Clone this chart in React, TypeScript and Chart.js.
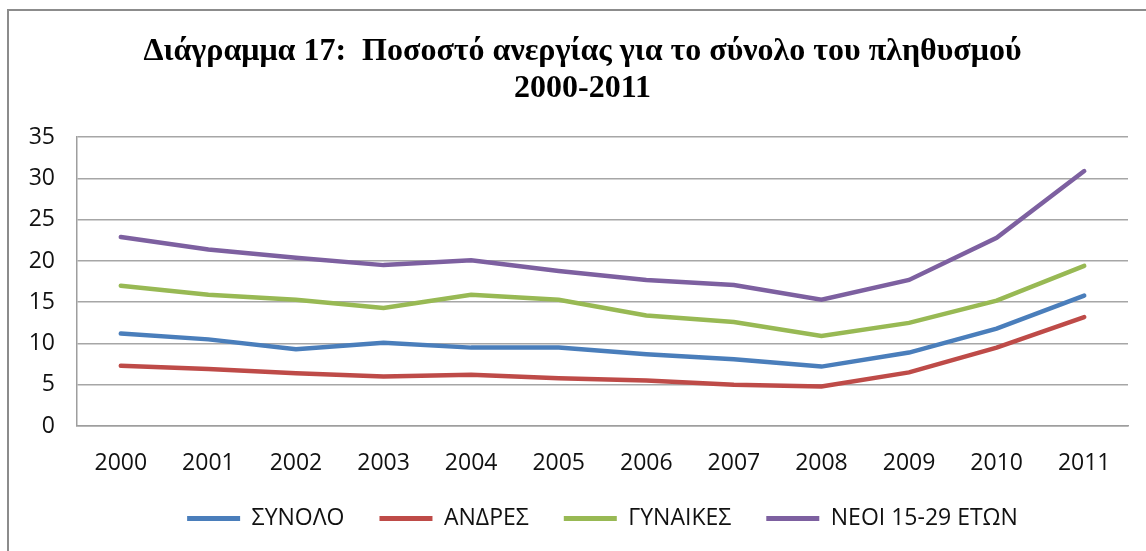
import React, { useEffect, useRef } from "react";
import { Chart, registerables } from "chart.js";

Chart.register(...registerables);

const years = ["2000", "2001", "2002", "2003", "2004", "2005", "2006", "2007", "2008", "2009", "2010", "2011"];
const synolo = [11.2, 10.5, 9.3, 10.1, 9.5, 9.5, 8.7, 8.1, 7.2, 8.9, 11.8, 15.8];
const andres = [7.3, 6.9, 6.4, 6.0, 6.2, 5.8, 5.5, 5.0, 4.8, 6.5, 9.5, 13.2];
const gynaikes = [17.0, 15.9, 15.3, 14.3, 15.9, 15.3, 13.4, 12.6, 10.9, 12.5, 15.2, 19.4];
const neoi = [22.9, 21.4, 20.4, 19.5, 20.1, 18.8, 17.7, 17.1, 15.3, 17.7, 22.8, 30.9];
const seriesNames = ["ΣΥΝΟΛΟ", "ΑΝΔΡΕΣ", "ΓΥΝΑΙΚΕΣ", "ΝΕΟΙ 15-29 ΕΤΩΝ"];
const titleLines = ["Διάγραμμα 17:  Ποσοστό ανεργίας για το σύνολο του πληθυσμού", "2000-2011"];

const shiftTitle = {
  id: "shiftTitle",
  afterLayout(chart: any) {
    const t = chart.titleBlock;
    if (t) {
      t.left += 8.5;
      t.right += 8.5;
    }
  },
};

export default function App() {
  const ref = useRef<HTMLCanvasElement | null>(null);
  useEffect(() => {
    if (!ref.current) return;
    const colors = ["#4a7ebb", "#be4b48", "#98b954", "#7d60a0"];
    const values = [synolo, andres, gynaikes, neoi];
    const chart = new Chart(ref.current, {
      type: "line",
      data: {
        labels: years,
        datasets: values.map((v, i) => ({
          label: seriesNames[i],
          data: v,
          borderColor: colors[i],
          backgroundColor: colors[i],
          borderWidth: 4.5,
          pointRadius: 0,
          tension: 0,
          borderCapStyle: "round" as const,
        })),
      },
      plugins: [shiftTitle],
      options: {
        animation: false,
        responsive: false,
        layout: { padding: { left: 20, right: 18, top: 0, bottom: 11 } },
        plugins: {
          title: {
            display: true,
            text: titleLines,
            color: "#000",
            font: { family: "Liberation Serif", size: 32, weight: "bold", lineHeight: 1.16 },
            padding: { top: 33, bottom: 30 },
          },
          legend: {
            position: "bottom",
            fullSize: false,
            labels: {
              color: "#111",
              font: { family: "Open Sans", size: 23 },
              boxWidth: 53,
              boxHeight: 5,
              padding: 35,
              generateLabels: (c: any) => {
                const items = Chart.defaults.plugins.legend.labels.generateLabels(c);
                return items.map((it: any) => ({ ...it, lineWidth: 0 }));
              },
            },
          },
          tooltip: { enabled: false },
        },
        scales: {
          x: {
            offset: true,
            grid: { display: false, drawTicks: false },
            border: { display: true, color: "#9e9e9e", width: 1.5 },
            ticks: { color: "#111", font: { family: "Open Sans", size: 23 }, padding: 24, maxRotation: 0 },
            afterFit: (s: any) => {
              s.height = 46;
            },
          },
          y: {
            min: 0,
            max: 35,
            ticks: { stepSize: 5, color: "#111", font: { family: "Open Sans", size: 23 }, padding: 22 },
            grid: { color: "#a6a6a6", lineWidth: 1.5, drawTicks: false },
            border: { display: true, color: "#9e9e9e", width: 1.5 },
            afterFit: (s: any) => {
              s.width = 57;
            },
          },
        },
      },
    });
    return () => chart.destroy();
  }, []);
  return (
    <div style={{ position: "fixed", left: 0, top: 0, width: 1146, height: 551, overflow: "hidden", background: "#fff" }}>
      <div
        style={{
          position: "absolute",
          left: 7,
          top: 9,
          width: 1300,
          height: 700,
          border: "2px solid #8c8c8c",
        }}
      />
      <canvas ref={ref} width={1146} height={551} style={{ position: "absolute", left: 0, top: 0, width: 1146, height: 551 }} />
    </div>
  );
}
